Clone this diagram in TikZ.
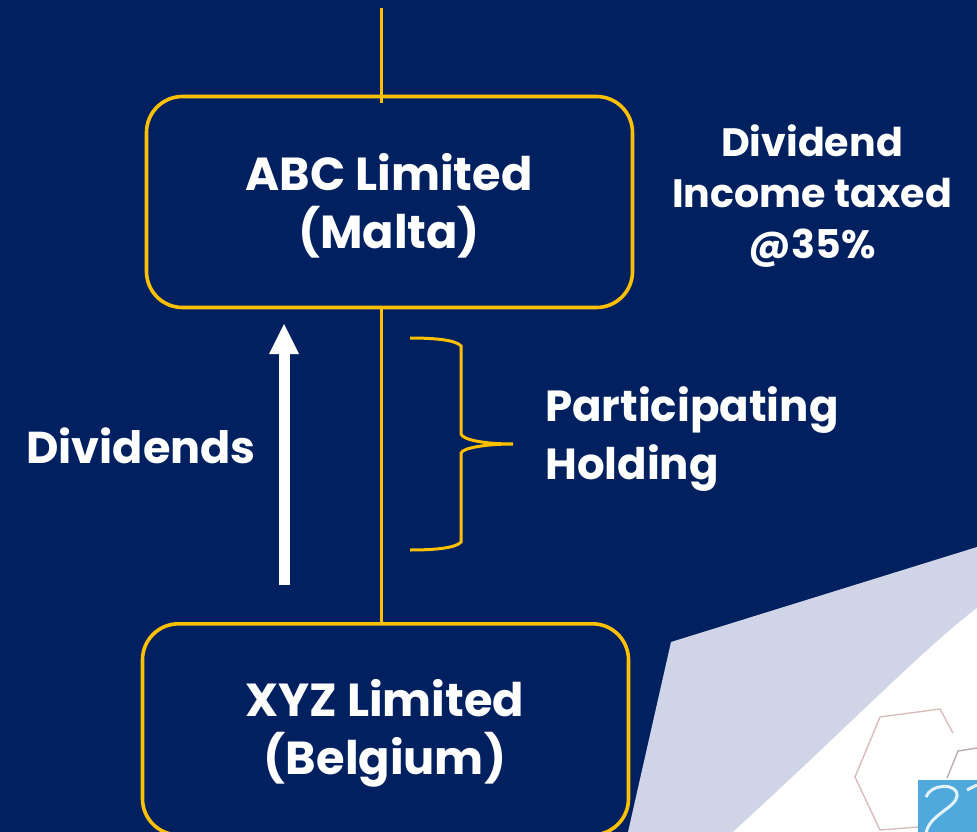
\documentclass[tikz,border=0pt]{standalone}
\usepackage{fontspec}
\setmainfont{Poppins}[BoldFont={Poppins Bold}]
\definecolor{navy}{HTML}{002060}
\definecolor{gold}{HTML}{FFC000}
\definecolor{pale}{HTML}{CFD5E6}
\definecolor{logoblue}{HTML}{4FA9DC}
\definecolor{hexline}{HTML}{D9BDBD}
\tikzset{
  px/.style={x=1pt,y=-1pt},
  orgbox/.style={draw=gold,line width=3.6pt,rounded corners=36pt,inner sep=0pt},
  goldline/.style={draw=gold,line width=3.4pt},
  label/.style={text=white,font=\bfseries,align=center,inner sep=0pt},
}
\begin{document}
\begin{tikzpicture}[px]
\useasboundingbox (0,0) rectangle (977,832);
\fill[navy] (0,0) rectangle (977,832);
% corner graphic
\fill[pale] (671,642) -- (977,547) -- (977,832) -- (628,832) -- cycle;
\fill[white] (977,608) .. controls (920,652) and (850,725) .. (733,832) -- (977,832) -- cycle;
\draw[hexline,line width=1.4pt] (953,733) -- (940,709) -- (880,717) -- (855,777) -- (880,830) -- (918,827);
\draw[hexline!70!gray,line width=1.4pt] (947,778) -- (958,751) -- (977,748);
\fill[logoblue] (918,780) rectangle (977,832);
\begin{scope}
\clip (918,780) rectangle (977,832);
\draw[white!85!logoblue,line width=3pt] (926,797) .. controls (930,784) and (958,782) .. (957,796) .. controls (956,808) and (928,815) .. (926,834);
\draw[white!85!logoblue,line width=3pt] (967,790) -- (977,785);
\end{scope}
% boxes
\node[orgbox,minimum width=486pt,minimum height=211pt] (abc) at (389.5,202) {};
\node[orgbox,minimum width=486pt,minimum height=211pt,anchor=north] (xyz) at (385.5,622) {};
\coordinate (topend) at (381.5,8);
\coordinate (abcin) at (381.5,103);
\coordinate (abcout) at (381.5,308);
\coordinate (xyzin) at (381.5,625);
\draw[goldline] (topend) -- (abcin);
\draw[goldline] (abcout) -- (xyzin);
% arrow
\coordinate (arrowtail) at (284,585);
\coordinate (arrowstem) at (284,353);
\coordinate (arrowtip) at (284,324);
\draw[white,line width=11pt] (arrowtail) -- (arrowstem);
\fill[white] (arrowtip) -- (299,354) -- (269,354) -- cycle;
% brace
\coordinate (bracetop) at (410,338);
\coordinate (bracebot) at (410,550);
\coordinate (bracetip) at (513,444);
\draw[goldline,line width=3pt] (bracetop) .. controls (435,338) and (456,340) .. (461,346) -- (461,434) .. controls (463,440) and (485,444) .. (bracetip) .. controls (485,444) and (463,448) .. (461,453) -- (461,542) .. controls (456,548) and (435,550) .. (bracebot);
% text
\node[label,font=\bfseries\fontsize{46.3}{58}\selectfont] (t1) at (389,206) {ABC Limited\\(Malta)};
\node[label,font=\bfseries\fontsize{46.3}{58}\selectfont] (t2) at (385,733) {XYZ Limited\\(Belgium)};
\node[label,font=\bfseries\fontsize{39.6}{51}\selectfont] (t3) at (812,196) {Dividend\\Income taxed\\@35\%};
\node[label,font=\bfseries\fontsize{43.5}{58}\selectfont,align=left,anchor=west] (t4) at (545,439) {Participating\\Holding};
\node[label,font=\bfseries\fontsize{44.6}{52}\selectfont] (t5) at (141,446) {Dividends};
\end{tikzpicture}
\end{document}
